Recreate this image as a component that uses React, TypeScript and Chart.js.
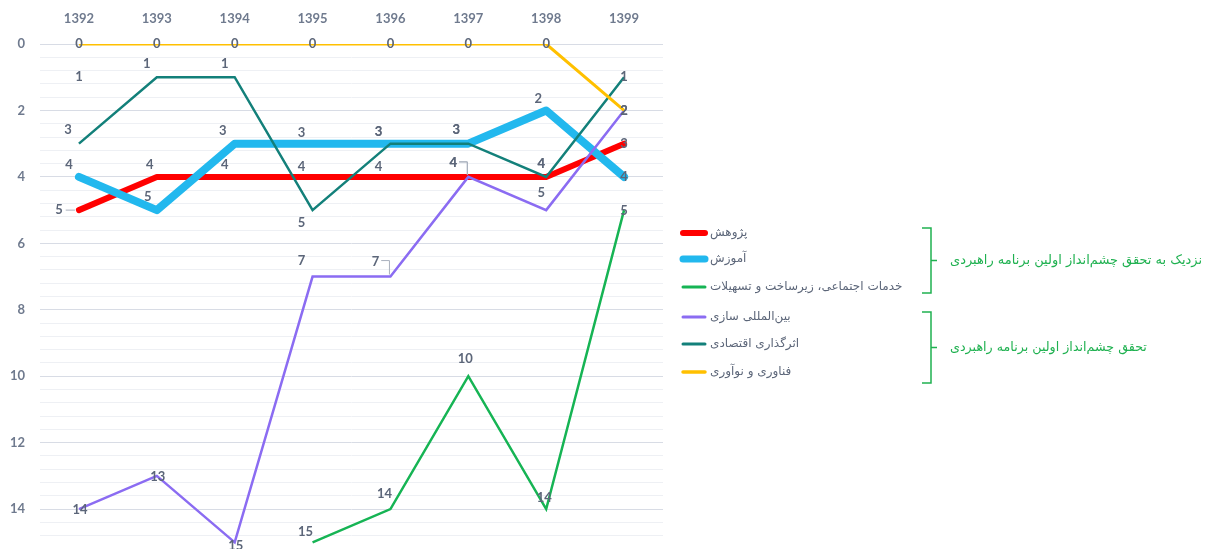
import React, { useEffect, useRef } from 'react';
import { Chart, registerables } from 'chart.js';

Chart.register(...registerables);

// ---------- data ----------
const years = ['1392', '1393', '1394', '1395', '1396', '1397', '1398', '1399'];

const research = [5, 4, 4, 4, 4, 4, 4, 3];
const education = [4, 5, 3, 3, 3, 3, 2, 4];
const services = [null, null, null, 15, 14, 10, 14, 5];
const international = [14, 13, 15, 7, 7, 4, 5, 2];
const economic = [3, 1, 1, 5, 3, 3, 4, 1];
const innovation = [0, 0, 0, 0, 0, 0, 0, 2];

const seriesNames = [
  'پژوهش',
  'آموزش',
  'خدمات اجتماعی، زیرساخت و تسهیلات',
  'بین‌المللی سازی',
  'اثرگذاری اقتصادی',
  'فناوری و نوآوری',
];

const yTickLabels = [0, 2, 4, 6, 8, 10, 12, 14];

const groupTitles = [
  'نزدیک به تحقق چشم‌انداز اولین برنامه راهبردی',
  'تحقق چشم‌انداز اولین برنامه راهبردی',
];

// a stray data label in the original (value 1 at 1392)
const strayLabels = [{ year: '1392', value: 1 }];

// ---------- styles ----------
const colors = ['#FF0000', '#22B8EE', '#16B454', '#8B6CF2', '#13807A', '#FFC000'];
const widths = [6, 8, 2.5, 2.5, 2.5, 3];
const legendWidths = [6, 7, 3, 3, 3, 3.5];
const labelColor = '#5C6679';
const axisColor = '#6F7A8E';
const groupColor = '#1FB150';
const numFont = 'Lato, "Liberation Sans", sans-serif';
const faFont = '"DejaVu Sans", "Noto Sans", sans-serif';
const groupTitleWidths = [252, 197];

// label offsets [dx, dy, leader] ; leader: 0 none, 1 horizontal, 2 elbow
type Off = [number, number, number?] | null;
const labelOffsets: Off[][] = [
  [[-20, 0, 1], [-7, -12], [-10, -12], [-11, -10], [-12, -10], [-15, -14, 2], [-5, -13], [0, 0]],
  [[-10, -12], [-9, -13], [-12, -13], [-11, -11], [-12, -12], [-12, -14], [-8, -12], [0, 0]],
  [null, null, null, [-7, -11], [-6, -15], [-3, -17], [-2, -11], [0, 1]],
  [[1, 1], [1, 1], [1, 3], [-11, -16], [-15, -15, 2], [-15, -14, 2], [-5, -17], [0, 0]],
  [[-11, -14], [-10, -13], [-10, -13], [-11, 13], [-12, -12], [-12, -14], [-5, -13], [0, 0]],
  [[0, 0], [0, 0], [0, 0], [0, 0], [0, 0], [0, 0], [0, 0], [0, 0]],
];

const isMajor = (v: number) => Math.abs(v - Math.round(v)) < 1e-6 && Math.round(v) % 2 === 0;

const labelsPlugin = {
  id: 'customLabels',
  afterDatasetsDraw(chart: any) {
    const ctx = chart.ctx as CanvasRenderingContext2D;
    const xs = chart.scales.x;
    const ys = chart.scales.y;
    ctx.save();
    ctx.font = `bold 13px ${numFont}`;
    ctx.fillStyle = labelColor;
    ctx.textAlign = 'center';
    ctx.textBaseline = 'middle';
    chart.data.datasets.forEach((ds: any, di: number) => {
      ds.data.forEach((v: any, i: number) => {
        if (v === null || v === undefined) return;
        const off = labelOffsets[di][i];
        if (!off) return;
        const px = xs.getPixelForValue(i);
        const py = ys.getPixelForValue(v);
        const lx = px + off[0];
        const ly = py + off[1];
        const txt = String(v);
        const w = ctx.measureText(txt).width;
        if (off[2] === 1) {
          ctx.save();
          ctx.strokeStyle = '#A9B0BD';
          ctx.lineWidth = 1;
          ctx.beginPath();
          ctx.moveTo(lx + w / 2 + 3, ly);
          ctx.lineTo(px - 4, py);
          ctx.stroke();
          ctx.restore();
        } else if (off[2] === 2) {
          ctx.save();
          ctx.strokeStyle = '#A9B0BD';
          ctx.lineWidth = 1;
          ctx.beginPath();
          ctx.moveTo(lx + w / 2 + 2, ly - 1);
          ctx.lineTo(px - 1, ly - 1);
          ctx.lineTo(px - 1, py - 2);
          ctx.stroke();
          ctx.restore();
        }
        ctx.fillText(txt, lx, ly);
      });
    });
    strayLabels.forEach((s) => {
      const px = xs.getPixelForValue(years.indexOf(s.year));
      const py = ys.getPixelForValue(s.value);
      ctx.fillText(String(s.value), px, py);
    });
    ctx.restore();
  },
  afterDraw(chart: any) {
    const ctx = chart.ctx as CanvasRenderingContext2D;
    const ca = chart.chartArea;
    const lineX0 = ca.right + 18;
    const lineX1 = ca.right + 44;
    const textX = ca.right + 47;
    const rowYs = [233, 259, 287, 317, 344, 372];
    ctx.save();
    chart.data.datasets.forEach((ds: any, i: number) => {
      const y = rowYs[i];
      ctx.strokeStyle = colors[i];
      ctx.lineWidth = legendWidths[i];
      ctx.lineCap = 'round';
      ctx.beginPath();
      ctx.moveTo(lineX0 + 2, y);
      ctx.lineTo(lineX1 - 2, y);
      ctx.stroke();
      ctx.font = `12px ${faFont}`;
      ctx.fillStyle = labelColor;
      ctx.textBaseline = 'middle';
      ctx.textAlign = 'left';
      (ctx as any).direction = 'rtl';
      ctx.fillText(ds.label, textX, y);
    });
    // braces
    const braces = [
      [228, 293],
      [312, 383],
    ];
    ctx.strokeStyle = groupColor;
    ctx.lineWidth = 1.5;
    ctx.lineCap = 'butt';
    braces.forEach(([t, b], gi) => {
      const bx = 931;
      const mid = (t + b) / 2;
      ctx.beginPath();
      ctx.moveTo(922, t);
      ctx.lineTo(bx, t);
      ctx.lineTo(bx, b);
      ctx.lineTo(922, b);
      ctx.moveTo(bx, mid);
      ctx.lineTo(bx + 6, mid);
      ctx.stroke();
      ctx.fillStyle = groupColor;
      ctx.textBaseline = 'middle';
      ctx.textAlign = 'left';
      (ctx as any).direction = 'rtl';
      ctx.font = `12px ${faFont}`;
      const w12 = ctx.measureText(groupTitles[gi]).width;
      const size = Math.min(13, (12 * groupTitleWidths[gi]) / w12);
      ctx.font = `${size.toFixed(2)}px ${faFont}`;
      ctx.fillText(groupTitles[gi], 950, mid);
    });
    ctx.restore();
  },
};

export default function App() {
  const ref = useRef<HTMLCanvasElement>(null);
  useEffect(() => {
    document.body.style.margin = '0';
    if (!ref.current) return;
    const seriesData = [research, education, services, international, economic, innovation];
    const chart = new Chart(ref.current, {
      type: 'line',
      data: {
        labels: years,
        datasets: seriesData.map((d, i) => ({
          label: seriesNames[i],
          data: d as any,
          borderColor: colors[i],
          backgroundColor: colors[i],
          borderWidth: widths[i],
          pointRadius: 0,
          pointHoverRadius: 0,
          fill: false,
          tension: 0,
          spanGaps: false,
          borderCapStyle: i < 2 ? 'round' : 'butt',
          borderJoinStyle: i < 2 ? 'round' : 'miter',
          order: 6 - i,
        })),
      },
      options: {
        animation: false,
        responsive: false,
        layout: { padding: { left: 0, right: 546, top: 0, bottom: 0 } },
        plugins: {
          legend: { display: false },
          tooltip: { enabled: false },
        },
        scales: {
          x: {
            position: 'top',
            offset: true,
            grid: { display: false, drawTicks: false },
            border: { display: false },
            ticks: {
              color: axisColor,
              font: { family: numFont, size: 13, weight: 'bold' },
              padding: 17,
              maxRotation: 0,
            },
            afterFit: (s: any) => {
              s.height = 44;
              s.paddingLeft = 0;
              s.paddingRight = 0;
            },
          },
          y: {
            reverse: true,
            min: 0,
            max: 15.2,
            border: { display: false },
            grid: {
              drawTicks: false,
              lineWidth: 1,
              color: (c: any) => (isMajor(c.tick.value) ? '#D8DCE5' : '#EEF0F4'),
            },
            ticks: {
              stepSize: 0.4,
              autoSkip: false,
              padding: 15,
              color: axisColor,
              font: { family: numFont, size: 13, weight: 'bold' },
              callback: (v: any) => {
                const n = Number(v);
                if (!isMajor(n)) return '';
                const r = Math.round(n);
                return yTickLabels.includes(r) ? String(r) : '';
              },
            },
            afterFit: (s: any) => {
              s.width = 40;
              s.paddingTop = 0;
              s.paddingBottom = 0;
            },
          },
        },
      },
      plugins: [labelsPlugin],
    });
    return () => chart.destroy();
  }, []);
  return (
    <div style={{ position: 'absolute', left: 0, top: 0, width: 1209, height: 549, background: '#fff' }}>
      <canvas ref={ref} width={1209} height={549} style={{ display: 'block' }} />
    </div>
  );
}
